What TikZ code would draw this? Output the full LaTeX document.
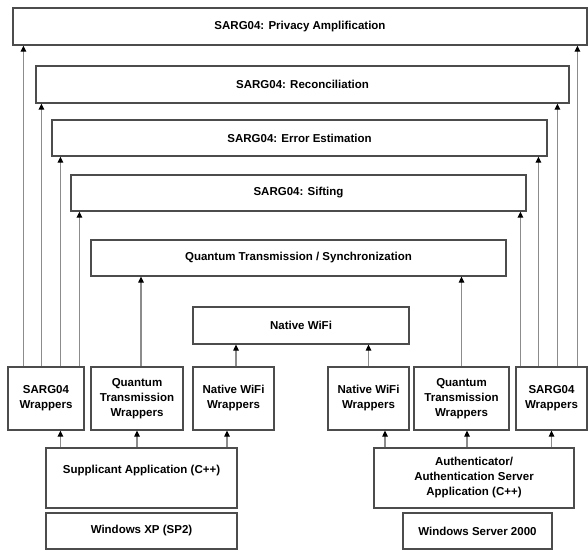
\documentclass[tikz,border=0pt]{standalone}
\usepackage{fontspec}
\setmainfont{Liberation Sans}
\usetikzlibrary{arrows.meta,calc}

\begin{document}
\begin{tikzpicture}[x=1pt,y=1pt]
\tikzstyle{every node}+=[inner sep=0pt, align=center, font=\fontsize{11.5}{15}\selectfont\bfseries]
\tikzstyle{box}=[draw=black!70, line width=1.2pt, fill=white]
\tikzstyle{arr}=[draw=black!45, line width=1.2pt, -{Triangle[length=6pt,width=5.5pt,color=black]}]
\useasboundingbox (0,0) rectangle (588,-550);
% protocol layers
\node[box, minimum width=574, minimum height=37] (priv) at (300,-26.5) {SARG04: Privacy Amplification};
\node[box, minimum width=533, minimum height=37] (reco) at (302.5,-84.5) {SARG04: Reconciliation};
\node[box, minimum width=495, minimum height=36] (err) at (299.5,-138) {SARG04: Error Estimation};
\node[box, minimum width=455, minimum height=36] (sift) at (298.5,-193) {SARG04: Sifting};
\node[box, minimum width=415, minimum height=36] (qts) at (298.5,-258) {Quantum Transmission / Synchronization};
\node[box, minimum width=216, minimum height=37] (wifi) at (301,-325.5) {Native WiFi};
% wrappers
\node[box, minimum width=76, minimum height=63] (sargL) at (46,-398.5) {SARG04\\Wrappers};
\node[box, minimum width=92, minimum height=63] (qtL) at (137,-398.5) {Quantum\\Transmission\\Wrappers};
\node[box, minimum width=81, minimum height=63] (nwL) at (233.5,-398.5) {Native WiFi\\Wrappers};
\node[box, minimum width=81, minimum height=63] (nwR) at (368.5,-398.5) {Native WiFi\\Wrappers};
\node[box, minimum width=95, minimum height=63] (qtR) at (461.5,-398.5) {Quantum\\Transmission\\Wrappers};
\node[box, minimum width=71, minimum height=63] (sargR) at (551.5,-398.5) {SARG04\\Wrappers};
% applications and systems
\node[box, minimum width=191, minimum height=60] (supp) at (141.5,-478) {Supplicant Application (C++)\\[3pt]~};
\node[box, minimum width=200, minimum height=60] (auth) at (474,-478) {Authenticator/\\Authentication Server\\Application (C++)};
\node[box, minimum width=191, minimum height=36] (winxp) at (141.5,-531) {Windows XP (SP2)};
\node[box, minimum width=149, minimum height=36] (winsrv) at (477.5,-531) {Windows Server 2000};
% SARG04 wrapper connectors
\coordinate (pL) at ($(sargL.north west)+(16,0)$);
\coordinate (rL) at ($(sargL.north west)+(34,0)$);
\coordinate (eL) at ($(sargL.north west)+(53,0)$);
\coordinate (sL) at ($(sargL.north west)+(72,0)$);
\coordinate (sR) at ($(sargR.north west)+(5,0)$);
\coordinate (eR) at ($(sargR.north west)+(23,0)$);
\coordinate (rR) at ($(sargR.north west)+(42,0)$);
\coordinate (pR) at ($(sargR.north west)+(62,0)$);
\draw[arr] (pL) -- (pL |- priv.south);
\draw[arr] (rL) -- (rL |- reco.south);
\draw[arr] (eL) -- (eL |- err.south);
\draw[arr] (sL) -- (sL |- sift.south);
\draw[arr] (pR) -- (pR |- priv.south);
\draw[arr] (rR) -- (rR |- reco.south);
\draw[arr] (eR) -- (eR |- err.south);
\draw[arr] (sR) -- (sR |- sift.south);
% other wrappers
\coordinate (qL) at ($(qtL.north)+(4,0)$);
\draw[arr] (qL) -- (qL |- qts.south);
\draw[arr] (qtR.north) -- (qtR.north |- qts.south);
\coordinate (wL) at ($(nwL.north)+(2.5,0)$);
\draw[arr] (wL) -- (wL |- wifi.south);
\draw[arr] (nwR.north) -- (nwR.north |- wifi.south);
% applications to wrappers
\coordinate (s3) at ($(nwL.south)+(-6.5,0)$);
\draw[arr] (eL |- supp.north) -- (eL |- sargL.south);
\draw[arr] (qtL.south |- supp.north) -- (qtL.south);
\draw[arr] (s3 |- supp.north) -- (s3);
\coordinate (a1) at ($(nwR.south)+(16.5,0)$);
\coordinate (a2) at ($(qtR.south)+(5.5,0)$);
\draw[arr] (a1 |- auth.north) -- (a1);
\draw[arr] (a2 |- auth.north) -- (a2);
\draw[arr] (sargR.south |- auth.north) -- (sargR.south);
\end{tikzpicture}
\end{document}
